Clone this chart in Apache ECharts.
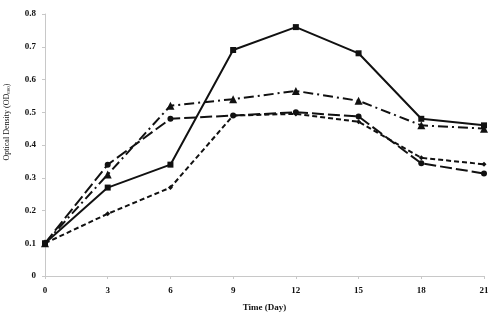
<!DOCTYPE html>
<html>
<head>
<meta charset="utf-8">
<script src="https://cdn.jsdelivr.net/npm/echarts@6/dist/echarts.min.js"></script>
<style>
html, body { margin: 0; padding: 0; background: #fff; }
#chart { width: 500px; height: 322px; }
</style>
</head>
<body>
<div id="chart"></div>
<script>
// 天数
var days = [0, 3, 6, 9, 12, 15, 18, 21];
// 各组 OD600
var squareData = [0.10, 0.27, 0.34, 0.69, 0.76, 0.68, 0.48, 0.46];
var triangleData = [0.10, 0.31, 0.52, 0.54, 0.565, 0.535, 0.46, 0.45];
var circleData = [0.10, 0.34, 0.48, 0.49, 0.50, 0.487, 0.344, 0.313];
var diamondData = [0.10, 0.19, 0.27, 0.49, 0.495, 0.471, 0.361, 0.341];

var pairs = function(ys) {
	var out = [];
	for (var i = 0; i < days.length; i++) {
		out.push([days[i], ys[i]]);
	}
	return out;
};

var serif = "Liberation Serif";
var line = function(name, ys, symbol, size, dash) {
	return {
		name: name,
		type: 'line',
		data: pairs(ys),
		symbol: symbol,
		symbolSize: size,
		itemStyle: { color: '#111' },
		lineStyle: { color: '#111', width: 2, type: dash },
		z: 3
	};
};

var myChart = echarts.init(document.getElementById('chart'));
var option = {
	animation: false,
	grid: { left: 45, right: 16, top: 14, bottom: 46, containLabel: false, outerBoundsMode: 'none' },
	xAxis: {
		type: 'value',
		min: 0,
		max: 21,
		interval: 3,
		name: 'Time (Day)',
		nameLocation: 'middle',
		nameGap: 27,
		nameTextStyle: { fontFamily: serif, fontWeight: 'bold', fontSize: 9, color: '#111' },
		axisLine: { lineStyle: { color: '#c8c8c8', width: 1 } },
		axisTick: { show: true, length: 3, lineStyle: { color: '#c8c8c8' } },
		axisLabel: { fontFamily: serif, fontWeight: 'bold', fontSize: 9, color: '#111', margin: 10 },
		splitLine: { show: false }
	},
	yAxis: {
		type: 'value',
		min: 0,
		max: 0.8,
		interval: 0.1,
		name: 'Optical Density (OD{sub|600})',
		nameLocation: 'middle',
		nameGap: 34,
		nameTextStyle: {
			fontFamily: serif, fontSize: 8, color: '#111',
			padding: [0, 0, 0, 46],
			rich: { sub: { fontFamily: serif, fontSize: 5, color: '#111', verticalAlign: 'bottom', padding: [3, 0, 0, 0] } }
		},
		axisLine: { show: true, lineStyle: { color: '#c8c8c8', width: 1 } },
		axisTick: { show: true, length: 3, lineStyle: { color: '#c8c8c8' } },
		axisLabel: { fontFamily: serif, fontWeight: 'bold', fontSize: 9, color: '#111', margin: 9 },
		splitLine: { show: false }
	},
	series: [
		line('square', squareData, 'rect', 6, 'solid'),
		line('triangle', triangleData, 'triangle', 8, [10, 4, 2, 4]),
		line('circle', circleData, 'circle', 6, [12, 4]),
		line('diamond', diamondData, 'diamond', 5, [5, 3])
	]
};
myChart.setOption(option);
</script>
</body>
</html>
